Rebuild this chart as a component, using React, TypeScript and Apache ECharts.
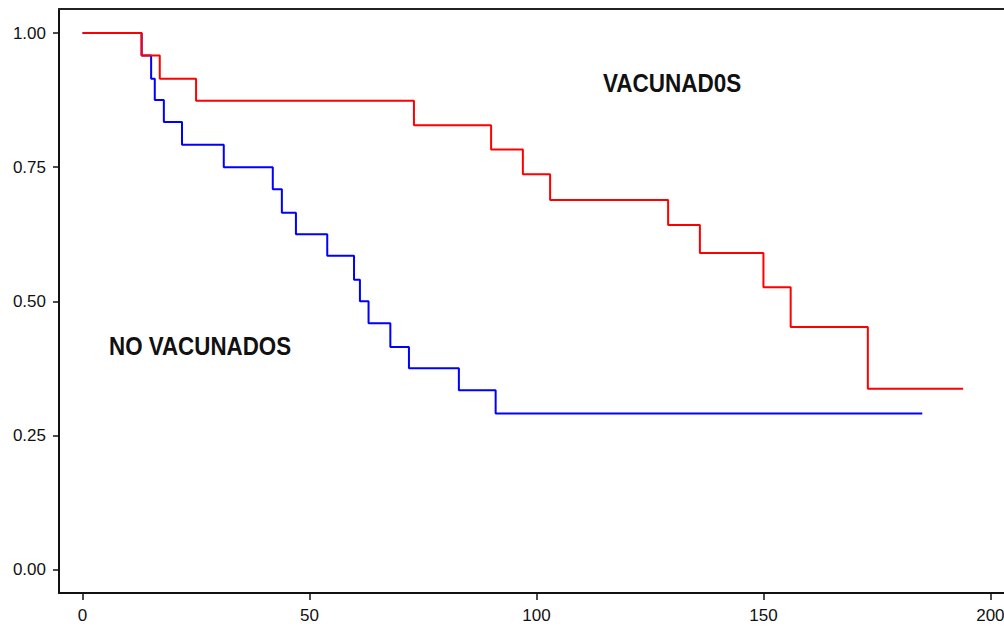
import React, { useEffect, useRef } from "react";
import * as echarts from "echarts";

// Kaplan–Meier survival estimates: [time, survival after the event at that time]
const vacunadosTime = [0, 13, 17, 25, 73, 90, 97, 103, 129, 136, 150, 156, 173, 194];
const vacunadosSurv = [1.0, 0.958, 0.915, 0.874, 0.828, 0.783, 0.737, 0.689, 0.642, 0.59, 0.526, 0.452, 0.337, 0.337];

const noVacunadosTime = [0, 13, 15.1, 15.9, 17.9, 21.9, 31.1, 41.9, 43.9, 47.0, 53.9, 59.8, 61.1, 63.0, 67.8, 71.9, 82.9, 91.0, 185];
const noVacunadosSurv = [1.0, 0.958, 0.915, 0.875, 0.834, 0.792, 0.75, 0.709, 0.665, 0.625, 0.585, 0.54, 0.5, 0.459, 0.415, 0.375, 0.334, 0.291, 0.291];

const xTicks = [0, 50, 100, 150, 200];
const yTicks = [0, 0.25, 0.5, 0.75, 1.0];

const labelVacunados = "VACUNAD0S";
const labelNoVacunados = "NO VACUNADOS";

const pairs = (xs: number[], ys: number[]) => xs.map((x, i) => [x, ys[i]]);

const X_MIN = -5.2;
const X_MAX = 203;

export default function App() {
  const ref = useRef<HTMLDivElement>(null);

  useEffect(() => {
    if (!ref.current) return;
    const chart = echarts.init(ref.current, null, { renderer: "svg" });
    const font = "'Liberation Sans', Arial, sans-serif";
    const axisLineStyle = { color: "#111", width: 2 };

    chart.setOption({
      animation: false,
      backgroundColor: "#ffffff",
      grid: {
        left: 59,
        top: 9,
        right: 0,
        bottom: 33,
        show: false,
        containLabel: false,
        outerBoundsMode: "none",
      },
      xAxis: [
        {
          type: "value",
          min: X_MIN,
          max: X_MAX,
          axisLine: { onZero: false, lineStyle: axisLineStyle },
          axisTick: { customValues: xTicks, length: 7, lineStyle: { color: "#111", width: 1.5 } },
          axisLabel: {
            customValues: xTicks,
            fontSize: 17,
            color: "#111",
            margin: 14,
            fontFamily: font,
            hideOverlap: false,
          },
          splitLine: { show: false },
        },
        {
          // top frame line
          type: "value",
          position: "top",
          min: X_MIN,
          max: X_MAX,
          axisLine: { show: true, onZero: false, lineStyle: { color: "#222", width: 2 } },
          axisTick: { show: false },
          axisLabel: { show: false },
          splitLine: { show: false },
        },
      ],
      yAxis: {
        type: "value",
        min: -0.0437,
        max: 1.0448,
        axisLine: { onZero: false, lineStyle: axisLineStyle },
        axisTick: { customValues: yTicks, length: 6, lineStyle: { color: "#111", width: 1.5 } },
        axisLabel: {
          customValues: yTicks,
          formatter: (v: number) => v.toFixed(2),
          fontSize: 17,
          color: "#111",
          margin: 13,
          fontFamily: font,
        },
        splitLine: { show: false },
      },
      series: [
        {
          name: labelNoVacunados,
          type: "line",
          step: "end",
          symbol: "none",
          data: pairs(noVacunadosTime, noVacunadosSurv),
          lineStyle: { color: "#0000ff", width: 2 },
          itemStyle: { color: "#0000ff" },
          z: 2,
        },
        {
          name: labelVacunados,
          type: "line",
          step: "end",
          symbol: "none",
          data: pairs(vacunadosTime, vacunadosSurv),
          lineStyle: { color: "#ff0000", width: 2 },
          itemStyle: { color: "#ff0000" },
          z: 3,
        },
      ],
      graphic: [
        {
          type: "text",
          x: 603,
          y: 83,
          scaleX: 0.9,
          style: {
            text: labelVacunados,
            font: `bold 25px ${font}`,
            fill: "#111",
            textAlign: "left",
            textVerticalAlign: "middle",
          },
        },
        {
          type: "text",
          x: 109,
          y: 346,
          scaleX: 0.86,
          style: {
            text: labelNoVacunados,
            font: `bold 26px ${font}`,
            fill: "#111",
            textAlign: "left",
            textVerticalAlign: "middle",
          },
        },
      ],
    });

    return () => chart.dispose();
  }, []);

  return (
    <div
      ref={ref}
      style={{ position: "absolute", left: 0, top: 0, width: 1004, height: 626 }}
    />
  );
}
